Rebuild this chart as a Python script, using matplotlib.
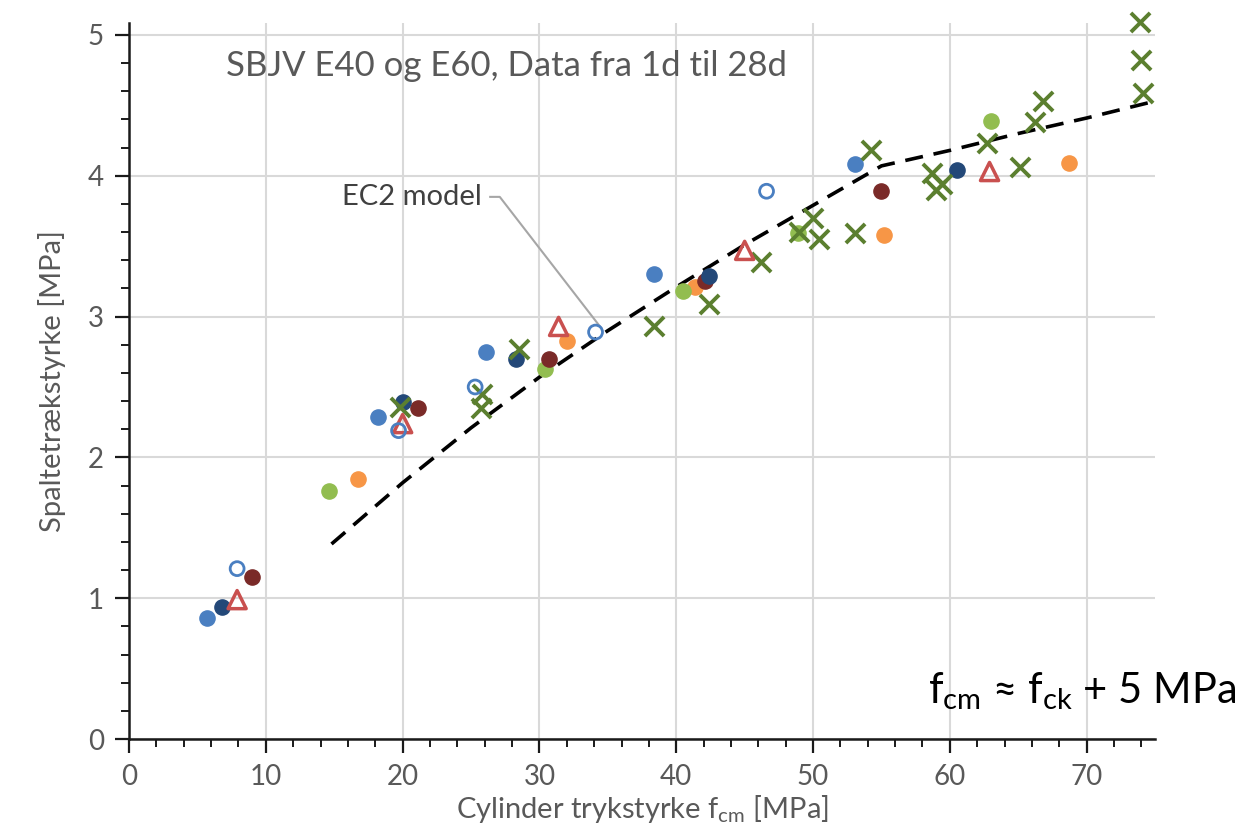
import matplotlib.pyplot as plt
from matplotlib.ticker import MultipleLocator

plt.rcParams['font.family'] = ['Lato', 'DejaVu Sans']

# Data (x: cylinder strength fcm [MPa], y: split tensile [MPa])
lysblaa_x = [5.7, 18.2, 26.1, 38.4, 53.1]
lysblaa_y = [0.86, 2.29, 2.75, 3.30, 4.08]

moerkblaa_x = [6.8, 20.0, 28.3, 42.4, 60.5]
moerkblaa_y = [0.94, 2.39, 2.70, 3.29, 4.04]

aaben_x = [7.9, 19.7, 25.3, 34.1, 46.6]
aaben_y = [1.21, 2.19, 2.50, 2.89, 3.89]

moerkroed_x = [9.0, 21.1, 30.7, 42.1, 55.0]
moerkroed_y = [1.15, 2.35, 2.70, 3.25, 3.89]

trekant_x = [7.9, 20.0, 31.4, 45.0, 62.9]
trekant_y = [0.99, 2.24, 2.93, 3.47, 4.03]

orange_x = [16.7, 32.0, 41.4, 55.2, 68.7]
orange_y = [1.85, 2.83, 3.21, 3.58, 4.09]

groen_x = [14.6, 30.4, 40.5, 48.9, 63.0]
groen_y = [1.76, 2.63, 3.18, 3.59, 4.39]

kryds_x = [19.8, 25.8, 25.7, 28.5, 38.4, 42.4, 46.2, 49.0, 50.0, 50.4, 53.1,
           54.2, 58.7, 59.0, 59.4, 62.7, 65.1, 66.2, 66.8, 73.9, 74.0, 74.1]
kryds_y = [2.36, 2.45, 2.35, 2.77, 2.93, 3.09, 3.39, 3.60, 3.70, 3.55, 3.59,
           4.18, 4.02, 3.90, 3.94, 4.23, 4.06, 4.38, 4.53, 5.09, 4.82, 4.59]

ec2_x = [14.8, 20, 25, 30, 35, 40, 45, 50, 55, 60, 65, 70, 75]
ec2_y = [1.385, 1.82, 2.21, 2.57, 2.90, 3.21, 3.51, 3.79, 4.07, 4.18, 4.30, 4.41, 4.53]

fig = plt.figure(figsize=(12.42, 8.38), dpi=100)
ax = fig.add_axes([0.1039, 0.1181, 0.8261, 0.8545])

ax.plot(ec2_x, ec2_y, color='black', lw=2.6, linestyle=(0, (5, 3)), zorder=2)

ax.scatter(lysblaa_x, lysblaa_y, s=120, color='#4a7fc1', zorder=3)
ax.scatter(orange_x, orange_y, s=120, color='#f79646', zorder=3)
ax.scatter(groen_x, groen_y, s=120, color='#92bd50', zorder=3)
ax.scatter(moerkroed_x, moerkroed_y, s=120, color='#7a2a28', zorder=3)
ax.scatter(moerkblaa_x, moerkblaa_y, s=120, color='#234878', zorder=3)
ax.scatter(kryds_x, kryds_y, s=190, marker='x', color='#5b7f2f', linewidths=2.8,
           zorder=4, clip_on=False)
ax.scatter(trekant_x, trekant_y, s=170, marker='^', facecolors='none',
           edgecolors='#c9504f', linewidths=2.5, zorder=5)
ax.scatter(aaben_x, aaben_y, s=100, facecolors='none', edgecolors='#4a7fc1',
           linewidths=2.0, zorder=6)

ax.set_xlim(0, 75)
ax.set_ylim(0, 5.085)
ax.xaxis.set_major_locator(MultipleLocator(10))
ax.xaxis.set_minor_locator(MultipleLocator(2))
ax.yaxis.set_major_locator(MultipleLocator(1))
ax.yaxis.set_minor_locator(MultipleLocator(0.2))
ax.grid(True, which='major', color='#d9d9d9', lw=1.5)
ax.set_axisbelow(True)
for s in ['top', 'right']:
    ax.spines[s].set_visible(False)
for s in ['left', 'bottom']:
    ax.spines[s].set_linewidth(1.8)
    ax.spines[s].set_color('#1a1a1a')
ax.tick_params(which='major', length=10, width=1.6, color='#1a1a1a',
               labelsize=20, labelcolor='#595959', pad=8)
ax.tick_params(which='minor', length=6, width=1.4, color='#1a1a1a')

ax.set_xlabel('Cylinder trykstyrke f$_{\\mathregular{cm}}$ [MPa]', fontsize=21,
              color='#595959', labelpad=2)
ax.set_ylabel('Spaltetrækstyrke [MPa]', fontsize=21, color='#595959', labelpad=16)

ax.text(7.1, 4.78, 'SBJV E40 og E60, Data fra 1d til 28d', fontsize=25,
        color='#595959', va='center', ha='left')

ax.text(25.8, 3.85, 'EC2 model', fontsize=21, color='#404040', va='center', ha='right')
ax.plot([26.4, 27.1, 34.5], [3.85, 3.85, 2.92], color='#a6a6a6', lw=1.5, zorder=2)

fig.text(0.995, 0.175, 'f$_{\\mathregular{cm}}$ ≈ f$_{\\mathregular{ck}}$ + 5 MPa',
         fontsize=30, color='black', ha='right', va='center')

fig.savefig('out.png', dpi=100)
